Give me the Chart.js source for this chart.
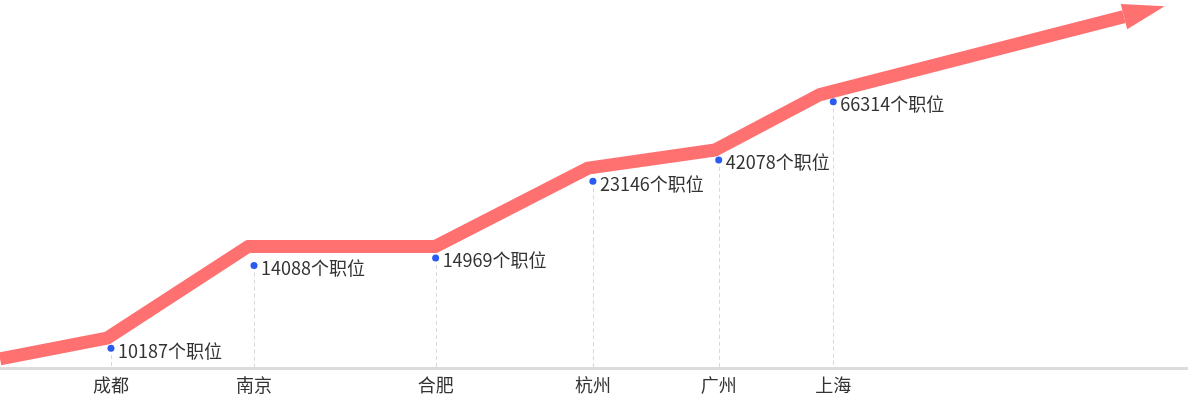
<!DOCTYPE html>
<html>
<head>
<meta charset="utf-8">
<script src="https://cdn.jsdelivr.net/npm/chart.js@4"></script>
<style>
  body { margin: 0; background: #fff; }
  #wrap { width: 1192px; height: 405px; }
</style>
</head>
<body>
<div id="wrap"><canvas id="chart"></canvas></div>
<script>
// cities and how many jobs each one has
const cities = ['成都', '南京', '合肥', '杭州', '广州', '上海'];
const jobCounts = [10187, 14088, 14969, 23146, 42078, 66314];

// where each city sits on the (unitless) x axis, and the level of its marker
const cityPos = [9.35, 21.4, 36.7, 49.95, 60.55, 70.2];
const markerLevel = [5.5, 27.9, 30.0, 50.8, 56.6, 72.4];

// the growth arrow that runs above the markers
const trendX = [0, 9.01, 20.89, 36.65, 49.54, 60.24, 69.08, 94.69];
const trendY = [2.6, 8.2, 33.06, 33.06, 54.37, 59.29, 74.32, 95.49];

const lineColor = '#ff7070';
const fontFamily = '"Noto Sans CJK SC", "Noto Sans", sans-serif';

// dashed drop lines from each marker down to the axis
const dropLines = {
    id: 'dropLines',
    beforeDatasetsDraw(chart) {
        const ctx = chart.ctx;
        const x = chart.scales.x;
        const y = chart.scales.y;
        ctx.save();
        ctx.strokeStyle = '#d8d8d8';
        ctx.lineWidth = 1;
        ctx.setLineDash([4, 3]);
        cityPos.forEach((v, i) => {
            const px = Math.round(x.getPixelForValue(v)) + 0.5;
            ctx.beginPath();
            ctx.moveTo(px, y.getPixelForValue(markerLevel[i]));
            ctx.lineTo(px, chart.chartArea.bottom);
            ctx.stroke();
        });
        ctx.restore();
    },
};

// arrow head at the end of the trend line + the job count labels
const arrowAndLabels = {
    id: 'arrowAndLabels',
    afterDatasetsDraw(chart) {
        const ctx = chart.ctx;
        const pts = chart.getDatasetMeta(0).data;
        const a = pts[pts.length - 2];
        const b = pts[pts.length - 1];
        const dx = b.x - a.x;
        const dy = b.y - a.y;
        const len = Math.sqrt(dx * dx + dy * dy);
        const ux = dx / len;
        const uy = dy / len;
        const headLen = 42;
        const halfW = 13;

        ctx.save();
        ctx.fillStyle = lineColor;
        ctx.beginPath();
        ctx.moveTo(b.x - uy * halfW, b.y + ux * halfW);
        ctx.lineTo(b.x + ux * headLen, b.y + uy * headLen);
        ctx.lineTo(b.x + uy * halfW, b.y - ux * halfW);
        ctx.closePath();
        ctx.fill();

        const dots = chart.getDatasetMeta(1).data;
        ctx.fillStyle = '#333';
        ctx.font = '18px ' + fontFamily;
        ctx.textAlign = 'left';
        ctx.textBaseline = 'alphabetic';
        dots.forEach((p, i) => {
            ctx.fillText(jobCounts[i] + '个职位', p.x + 7, p.y + 9.5);
        });
        ctx.restore();
    },
};

const config = {
    type: 'line',
    data: {
        datasets: [
            {
                label: 'trend',
                data: trendX.map((x, i) => ({ x: x, y: trendY[i] })),
                borderColor: lineColor,
                borderWidth: 13,
                borderJoinStyle: 'round',
                borderCapStyle: 'butt',
                pointRadius: 0,
                tension: 0,
                fill: false,
            },
            {
                label: 'cities',
                data: cityPos.map((x, i) => ({ x: x, y: markerLevel[i] })),
                showLine: false,
                pointRadius: 3.5,
                pointBackgroundColor: '#2b5cf0',
                pointBorderWidth: 0,
            },
        ],
    },
    options: {
        responsive: true,
        maintainAspectRatio: false,
        animation: false,
        layout: {
            autoPadding: false,
            padding: { left: 0, right: 5, top: 0, bottom: 3 },
        },
        plugins: {
            legend: { display: false },
            tooltip: { enabled: false },
        },
        scales: {
            x: {
                type: 'linear',
                min: 0,
                max: 100,
                grid: { display: false, drawTicks: false },
                border: { color: '#dcdcdc', width: 3 },
                afterBuildTicks: scale => {
                    scale.ticks = cityPos.map(v => ({ value: v }));
                },
                ticks: {
                    autoSkip: false,
                    maxRotation: 0,
                    padding: 6,
                    color: '#333',
                    font: { size: 18, family: fontFamily },
                    callback: (value, index) => cities[index],
                },
            },
            y: {
                display: false,
                min: 0,
                max: 100,
            },
        },
    },
    plugins: [dropLines, arrowAndLabels],
};

const chart = new Chart(document.getElementById('chart'), config);
</script>
</body>
</html>
